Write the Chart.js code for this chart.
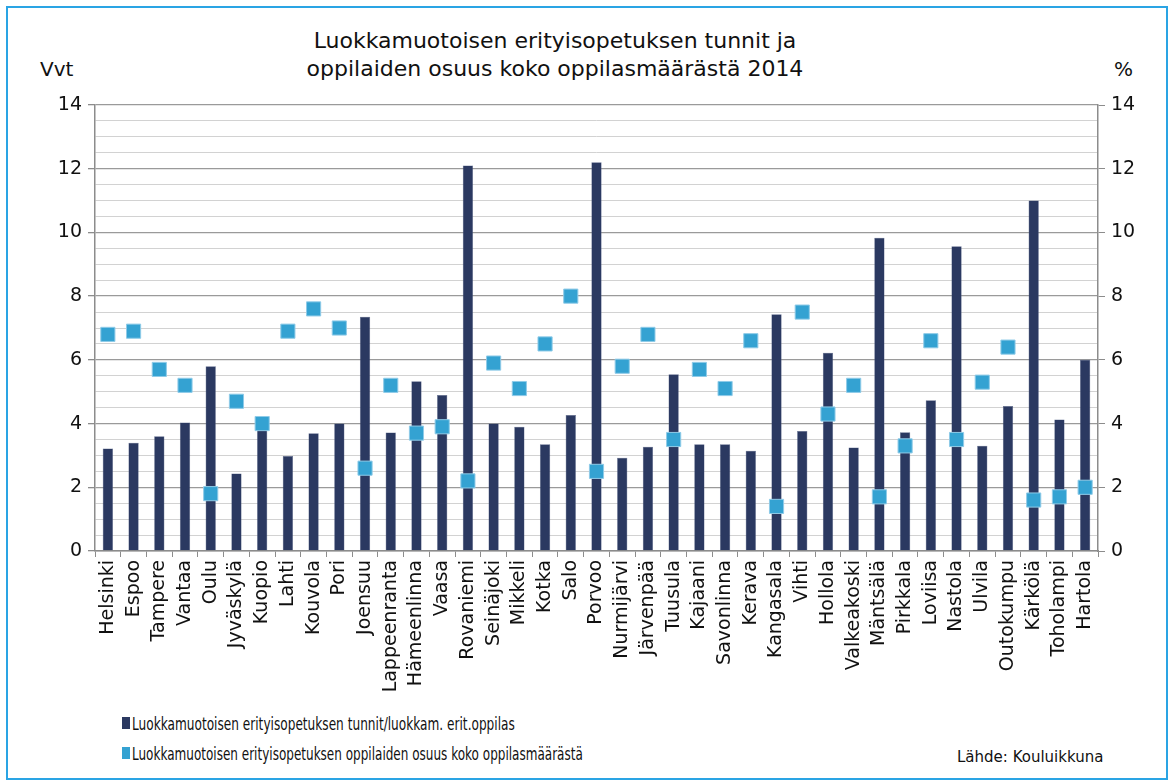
<!DOCTYPE html>
<html lang="fi">
<head>
<meta charset="UTF-8">
<title>Luokkamuotoisen erityisopetuksen tunnit</title>
<script src="https://cdn.jsdelivr.net/npm/chart.js"></script>
<style>
    body { margin: 0; background: #fff; font-family: "DejaVu Sans", Verdana, sans-serif; }
    .frame { position: absolute; left: 6px; top: 6px; width: 1158px; height: 770px; border: 2px solid #2aa4e4; }
    .title { position: absolute; left: 0; width: 1110px; top: 27px; text-align: center; font-size: 22px; line-height: 28px; color: #111; }
    .unit { position: absolute; top: 57px; font-size: 20px; color: #111; }
    #chartBox { position: absolute; left: 0; top: 85px; }
    .legend { position: absolute; left: 122px; top: 708px; font-size: 18px; color: #111; }
    .legend div { height: 30px; display: flex; align-items: center; white-space: nowrap; }
    .legend span.box { display: inline-block; width: 8px; height: 12px; margin-right: 2px; }
    .legend span.txt { display: inline-block; transform-origin: left center; }
    .source { position: absolute; left: 957px; top: 748px; font-size: 15px; color: #111; }
</style>
</head>
<body>
<div class="frame"></div>
<div class="title">Luokkamuotoisen erityisopetuksen tunnit ja<br>oppilaiden osuus koko oppilasmäärästä 2014</div>
<div class="unit" style="left:40px">Vvt</div>
<div class="unit" style="left:1114px">%</div>
<div id="chartBox"><canvas id="chart" width="1173" height="606"></canvas></div>
<div class="legend">
    <div><span class="box" style="background:#2b3961"></span><span class="txt" data-w="383">Luokkamuotoisen erityisopetuksen tunnit/luokkam. erit.oppilas</span></div>
    <div><span class="box" style="background:#34a2d2"></span><span class="txt" data-w="451">Luokkamuotoisen erityisopetuksen oppilaiden osuus koko oppilasmäärästä</span></div>
</div>
<div class="source">Lähde: Kouluikkuna</div>

<script>
    const municipalities = ['Helsinki', 'Espoo', 'Tampere', 'Vantaa', 'Oulu', 'Jyväskylä', 'Kuopio', 'Lahti',
        'Kouvola', 'Pori', 'Joensuu', 'Lappeenranta', 'Hämeenlinna', 'Vaasa', 'Rovaniemi', 'Seinäjoki',
        'Mikkeli', 'Kotka', 'Salo', 'Porvoo', 'Nurmijärvi', 'Järvenpää', 'Tuusula', 'Kajaani', 'Savonlinna',
        'Kerava', 'Kangasala', 'Vihti', 'Hollola', 'Valkeakoski', 'Mäntsälä', 'Pirkkala', 'Loviisa', 'Nastola',
        'Ulvila', 'Outokumpu', 'Kärkölä', 'Toholampi', 'Hartola'];

    // vuosiviikkotunnit per luokkamuotoinen erit. oppilas (left axis)
    const hoursPerPupil = [3.22, 3.4, 3.6, 4.03, 5.8, 2.43, 4.0, 2.98,
        3.7, 4.0, 7.35, 3.72, 5.33, 4.9, 12.1, 4.0,
        3.9, 3.35, 4.27, 12.2, 2.93, 3.27, 5.55, 3.35, 3.35,
        3.15, 7.43, 3.77, 6.22, 3.25, 9.83, 3.73, 4.73, 9.57,
        3.3, 4.55, 11.0, 4.13, 6.0];

    // osuus koko oppilasmäärästä, % (right axis)
    const pupilShare = [6.8, 6.9, 5.7, 5.2, 1.8, 4.7, 4.0, 6.9,
        7.6, 7.0, 2.6, 5.2, 3.7, 3.9, 2.2, 5.9,
        5.1, 6.5, 8.0, 2.5, 5.8, 6.8, 3.5, 5.7, 5.1,
        6.6, 1.4, 7.5, 4.3, 5.2, 1.7, 3.3, 6.6, 3.5,
        5.3, 6.4, 1.6, 1.7, 2.0];

    const axisMax = 14;
    const axisGrey = '#8c8c8c';

    // legend text is condensed in the original, squeeze it to the same width
    document.querySelectorAll('.legend span.txt').forEach(el => {
        const scale = Number(el.dataset.w) / el.offsetWidth;
        el.style.transform = `scaleX(${scale})`;
    });

    const isMajor = v => Math.abs(v % 2) < 1e-9;

    const yTicks = {
        stepSize: 0.5,
        maxTicksLimit: 100,
        autoSkip: false,
        color: '#111',
        padding: 6,
        font: { family: '"DejaVu Sans", Verdana, sans-serif', size: 19 },
        callback: v => isMajor(v) ? v : ''
    };

    const ctx = document.getElementById('chart').getContext('2d');
    new Chart(ctx, {
        data: {
            labels: municipalities,
            datasets: [
                {
                    type: 'line',
                    label: 'Luokkamuotoisen erityisopetuksen oppilaiden osuus koko oppilasmäärästä',
                    data: pupilShare,
                    yAxisID: 'y1',
                    showLine: false,
                    pointStyle: 'rect',
                    pointRadius: 10,
                    pointBackgroundColor: '#34a2d2',
                    pointBorderColor: '#8fcbe8',
                    pointBorderWidth: 1,
                    order: 0
                },
                {
                    type: 'bar',
                    label: 'Luokkamuotoisen erityisopetuksen tunnit/luokkam. erit.oppilas',
                    data: hoursPerPupil,
                    yAxisID: 'y',
                    backgroundColor: '#2b3961',
                    borderColor: '#5a678a',
                    borderWidth: 0.5,
                    categoryPercentage: 1,
                    barPercentage: 0.4,
                    order: 1
                }
            ]
        },
        options: {
            responsive: false,
            animation: false,
            layout: { padding: { top: 20, left: 0, right: 0, bottom: 0 } },
            plugins: {
                legend: { display: false },
                tooltip: { enabled: false }
            },
            scales: {
                x: {
                    offset: true,
                    afterFit: s => { s.height = 140; },
                    grid: {
                        offset: true,
                        drawOnChartArea: false,
                        tickLength: 6,
                        color: axisGrey
                    },
                    border: { color: axisGrey, width: 1.5 },
                    ticks: {
                        autoSkip: false,
                        minRotation: 90,
                        maxRotation: 90,
                        padding: 3,
                        color: '#111',
                        font: { family: '"DejaVu Sans", Verdana, sans-serif', size: 19 }
                    }
                },
                y: {
                    position: 'left',
                    min: 0,
                    max: axisMax,
                    afterFit: s => { s.width = 95; },
                    grid: {
                        color: c => isMajor(c.tick.value) ? '#9a9a9a' : '#d2d2d2',
                        lineWidth: c => isMajor(c.tick.value) ? 1.3 : 1,
                        tickColor: c => isMajor(c.tick.value) ? axisGrey : 'rgba(0,0,0,0)',
                        tickLength: 7
                    },
                    border: { color: axisGrey, width: 1.5 },
                    ticks: yTicks
                },
                y1: {
                    position: 'right',
                    min: 0,
                    max: axisMax,
                    afterFit: s => { s.width = 75; },
                    grid: {
                        drawOnChartArea: false,
                        tickColor: c => isMajor(c.tick.value) ? axisGrey : 'rgba(0,0,0,0)',
                        tickLength: 7
                    },
                    border: { color: axisGrey, width: 1.5 },
                    ticks: yTicks
                }
            }
        }
    });
</script>
</body>
</html>
